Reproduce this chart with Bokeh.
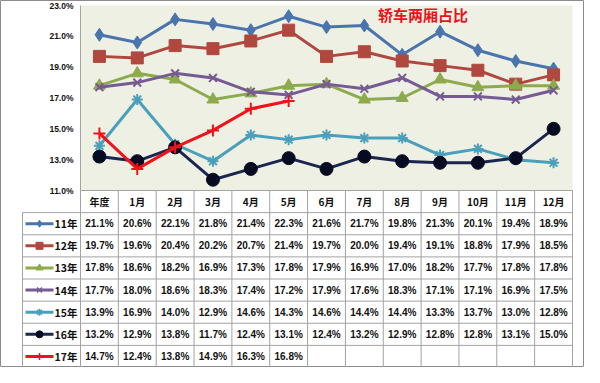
from bokeh.plotting import figure
from bokeh.models import Range1d, Label
from bokeh.core.properties import value
from bokeh.embed import file_html
from bokeh.resources import INLINE

categories = ["年度", "1月", "2月", "3月", "4月", "5月", "6月", "7月", "8月", "9月", "10月", "11月", "12月"]
series_names = ["11年", "12年", "13年", "14年", "15年", "16年", "17年"]
s11 = [21.1, 20.6, 22.1, 21.8, 21.4, 22.3, 21.6, 21.7, 19.8, 21.3, 20.1, 19.4, 18.9]
s12 = [19.7, 19.6, 20.4, 20.2, 20.7, 21.4, 19.7, 20.0, 19.4, 19.1, 18.8, 17.9, 18.5]
s13 = [17.8, 18.6, 18.2, 16.9, 17.3, 17.8, 17.9, 16.9, 17.0, 18.2, 17.7, 17.8, 17.8]
s14 = [17.7, 18.0, 18.6, 18.3, 17.4, 17.2, 17.9, 17.6, 18.3, 17.1, 17.1, 16.9, 17.5]
s15 = [13.9, 16.9, 14.0, 12.9, 14.6, 14.3, 14.6, 14.4, 14.4, 13.3, 13.7, 13.0, 12.8]
s16 = [13.2, 12.9, 13.8, 11.7, 12.4, 13.1, 12.4, 13.2, 12.9, 12.8, 12.8, 13.1, 15.0]
s17 = [14.7, 12.4, 13.8, 14.9, 16.3, 16.8]
y_ticks = [11, 13, 15, 17, 19, 21, 23]
title_text = "轿车两厢占比"

all_series = [s11, s12, s13, s14, s15, s16, s17]
line_colors = ["#4A74AE", "#B0483F", "#8DAA4C", "#765B93", "#4AA0BA", "#1A2550", "#F2121A"]
marker_fill = ["#4A74AE", "#B0483F", "#8DAA4C", "#765B93", "#4AA0BA", "#070B22", "#F2121A"]
markers = ["diamond", "square", "triangle", "x", "asterisk", "circle", "cross"]
msizes = [13, 12, 12, 11, 11, 13, 12]

NUM_FONT = value("Liberation Sans, 'Noto Sans CJK SC'")
CJK_FONT = value("Noto Sans CJK SC")
BG = "#EEF0E4"
GRID = "#A3A3A3"
TXT = "#111111"

# ---- layout geometry (pixels inside the figure) ----
W, H = 584, 367
ncat = len(categories)
plot_left, plot_right = 80, 572          # chart plot-area edges
plot_top, plot_bottom = 5, 190           # chart plot-area edges
table_bottom = H
unit = (plot_right - plot_left) / ncat
nrows = len(series_names) + 1
row_h = (table_bottom - plot_bottom) / nrows

x_lo = -plot_left / unit
x_hi = ncat + (W - plot_right) / unit
ymin, ymax = y_ticks[0], y_ticks[-1]
vpp = (ymax - ymin) / (plot_bottom - plot_top)
y_hi = ymax + plot_top * vpp
y_lo = ymin - (H - plot_bottom) * vpp
r_top = -plot_bottom / row_h
r_bot = nrows

p = figure(width=W, height=H, x_range=Range1d(x_lo, x_hi), y_range=Range1d(y_lo, y_hi),
           x_axis_type=None, y_axis_type=None, output_backend="svg", toolbar_location=None,
           min_border=0)
p.extra_y_ranges = {"table": Range1d(r_bot, r_top)}
p.grid.visible = False
p.outline_line_color = "#8C8C8C"
p.outline_line_width = 1
p.background_fill_color = "white"
p.border_fill_color = "white"

# plot area background and y axis
p.quad(left=[0], right=[ncat], bottom=[ymin], top=[ymax], fill_color=BG, line_color=None)
p.segment(x0=[0], y0=[ymin], x1=[0], y1=[ymax], line_color=GRID, line_width=1)
p.text(x=[-7 / unit] * len(y_ticks), y=y_ticks, text=[f"{t:.1f}%" for t in y_ticks],
       text_font=value("Liberation Sans"), text_font_style="bold", text_font_size="8.5px",
       text_align="right", text_baseline="middle", text_color=TXT)

for vals, lc, mf, mk, ms in zip(all_series, line_colors, marker_fill, markers, msizes):
    xs = [i + 0.5 for i in range(len(vals))]
    p.line(xs, vals, line_color=lc, line_width=3)
    if mk in ("x", "asterisk", "cross"):
        p.scatter(xs, vals, marker=mk, size=ms, line_color=lc, line_width=2, fill_color=None)
    else:
        p.scatter(xs, vals, marker=mk, size=ms, line_color=mf, fill_color=mf)

p.add_layout(Label(x=9.05, y=22.4, text=title_text, text_color="#E8141B", text_font="Noto Sans CJK SC",
                   text_font_style="bold", text_font_size="15px", text_align="center",
                   text_baseline="middle"))

# ---------------- table ----------------
leg_x0 = (29 - 88 + 8) / unit - 0.0
leg_x0 = -(plot_left - 22) / unit
T = "table"
p.segment(x0=[0], y0=[0], x1=[ncat], y1=[0], line_color=GRID, line_width=1, y_range_name=T)
p.segment(x0=[leg_x0] * nrows, y0=list(range(1, nrows + 1)), x1=[ncat] * nrows,
          y1=list(range(1, nrows + 1)), line_color=GRID, line_width=1, y_range_name=T)
p.segment(x0=list(range(ncat + 1)), y0=[0] * (ncat + 1), x1=list(range(ncat + 1)),
          y1=[nrows] * (ncat + 1), line_color=GRID, line_width=1, y_range_name=T)
p.segment(x0=[leg_x0], y0=[1], x1=[leg_x0], y1=[nrows], line_color=GRID, line_width=1, y_range_name=T)

p.text(x=[i + 0.5 for i in range(ncat)], y=[0.5] * ncat, text=categories, text_font=CJK_FONT,
       text_font_style="bold", text_font_size="10px", text_align="center", text_baseline="middle",
       text_color=TXT, y_range_name=T)

tx, ty, tt = [], [], []
for r, vals in enumerate(all_series):
    for i, v in enumerate(vals):
        tx.append(i + 0.5)
        ty.append(r + 1.5)
        tt.append(f"{v:.1f}%")
p.text(x=tx, y=ty, text=tt, text_font=NUM_FONT, text_font_style="bold", text_font_size="10px",
       text_align="center", text_baseline="middle", text_color=TXT, y_range_name=T)

lx0 = -(plot_left - 25) / unit
lx1 = -(plot_left - 53) / unit
lxm = (lx0 + lx1) / 2
for r, (name, lc, mf, mk) in enumerate(zip(series_names, line_colors, marker_fill, markers)):
    yy = r + 1.5
    p.segment(x0=[lx0], y0=[yy], x1=[lx1], y1=[yy], line_color=lc, line_width=3, y_range_name=T)
    if mk in ("x", "asterisk", "cross"):
        p.scatter([lxm], [yy], marker=mk, size=7, line_color=lc, line_width=1.5, y_range_name=T)
    else:
        p.scatter([lxm], [yy], marker=mk, size=7, line_color=mf, fill_color=mf, y_range_name=T)
p.text(x=[-(plot_left - 54) / unit] * len(series_names), y=[r + 1.5 for r in range(len(series_names))],
       text=series_names, text_font=CJK_FONT, text_font_style="bold", text_font_size="10.5px",
       text_align="left", text_baseline="middle", text_color=TXT, y_range_name=T)

open("out.html", "w").write(file_html(p, INLINE))
